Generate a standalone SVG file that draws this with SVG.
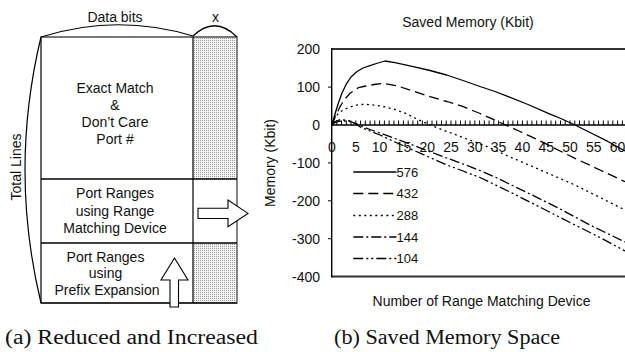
<svg xmlns="http://www.w3.org/2000/svg" width="625" height="352" viewBox="0 0 625 352">
<style>
text{font-family:"Liberation Sans",Arial,sans-serif;fill:#111}
.t14{font-size:14px}
.t13{font-size:13px}
.mid{text-anchor:middle}
.end{text-anchor:end}
.ln{fill:none;stroke:#000;stroke-width:1.2}
.cv{fill:none;stroke:#000;stroke-width:1.3;stroke-linejoin:round}
.s432{stroke-dasharray:10,5}
.s288{stroke-dasharray:2,3.5}
.s144{stroke-dasharray:10,3,2,3}
.s104{stroke-dasharray:10,3,2,3,2,3}
.arrow{fill:#fff;stroke:#000;stroke-width:1.1}
.cap{font-family:"Liberation Serif","Times New Roman",serif;font-size:20px}
</style>
<defs>
<pattern id="dots" width="2" height="2" patternUnits="userSpaceOnUse">
<rect width="2" height="2" fill="#f2f2f2"/>
<rect width="1" height="1" fill="#a0a0a0"/>
</pattern>
</defs>

<g id="table">
<rect x="193" y="37" width="44" height="142" fill="url(#dots)"/>
<rect x="193" y="243" width="44" height="60" fill="url(#dots)"/>
<rect x="41" y="37" width="196" height="266" fill="none" stroke="#000" stroke-width="1.2"/>
<line x1="41" y1="37" x2="237" y2="37" stroke="#777" stroke-width="2"/>
<line x1="237" y1="37" x2="237" y2="303" stroke="#888" stroke-width="1.8"/>
<line x1="193" y1="37" x2="193" y2="303" stroke="#000" stroke-width="1.2"/>
<line x1="41" y1="179" x2="237" y2="179" stroke="#000" stroke-width="1.3"/>
<line x1="41" y1="243" x2="237" y2="243" stroke="#000" stroke-width="1.3"/>
<line x1="41" y1="303" x2="237" y2="303" stroke="#000" stroke-width="1.2"/>
</g>

<g id="braces">
<path class="ln" d="M41,37 Q117,13 193,36"/>
<path class="ln" d="M193,36 Q215,15 237,37"/>
<path class="ln" d="M41,37 Q9,170 41,303"/>
<text class="t14 mid" x="115" y="21.5">Data bits</text>
<text class="t14 mid" x="215.5" y="21.5">x</text>
<text class="t14 mid" transform="translate(21,167) rotate(-90)">Total Lines</text>
</g>

<g id="exact-match">
<text class="t14 mid" x="115" y="92.5">Exact Match</text>
<text class="t14 mid" x="115" y="109.7">&amp;</text>
<text class="t14 mid" x="115" y="126.9">Don’t Care</text>
<text class="t14 mid" x="115" y="144.1">Port #</text>
</g>

<g id="range-device">
<text class="t14 mid" x="115" y="198.3">Port Ranges</text>
<text class="t14 mid" x="115" y="215.6">using Range</text>
<text class="t14 mid" x="115" y="232.8">Matching Device</text>
<polygon class="arrow" points="198,208.3 228,208.3 228,200 248,213.4 228,226.8 228,218.5 198,218.5"/>
</g>

<g id="prefix-expansion">
<text class="t14 mid" x="105.5" y="261.5">Port Ranges</text>
<text class="t14 mid" x="105.5" y="278">using</text>
<text class="t14 mid" x="107" y="295">Prefix Expansion</text>
<polygon class="arrow" points="174.5,258 188,280 178.5,280 178.5,307 170,307 170,280 161,280"/>
</g>

<g id="chart">
<text class="t14 mid" x="468" y="27">Saved Memory (Kbit)</text>
<line x1="331.7" y1="49" x2="625" y2="49" stroke="#333" stroke-width="1.8"/>
<line x1="331.7" y1="276.5" x2="625" y2="276.5" stroke="#333" stroke-width="1.8"/>
<line x1="331.7" y1="48" x2="331.7" y2="277.4" stroke="#000" stroke-width="1.4"/>
<path stroke="#000" stroke-width="1" d="M328,87.1h4M328,162.9h4M328,200.8h4M328,238.7h4"/>
<g class="t14 end">
<text x="320" y="54.2">200</text>
<text x="320" y="92.2">100</text>
<text x="320" y="130.1">0</text>
<text x="320" y="168">-100</text>
<text x="320" y="205.9">-200</text>
<text x="320" y="243.8">-300</text>
<text x="320" y="281.6">-400</text>
</g>
<text class="t14 mid" transform="translate(275,163) rotate(-90)">Memory (Kbit)</text>
<text class="t14 mid" x="481.5" y="306">Number of Range Matching Device</text>
<g class="t14 mid">
<text x="332" y="151.5">0</text>
<text x="355.8" y="151.5">5</text>
<text x="379.6" y="151.5">10</text>
<text x="403.4" y="151.5">15</text>
<text x="427.2" y="151.5">20</text>
<text x="451" y="151.5">25</text>
<text x="474.8" y="151.5">30</text>
<text x="498.6" y="151.5">35</text>
<text x="522.4" y="151.5">40</text>
<text x="546.2" y="151.5">45</text>
<text x="570" y="151.5">50</text>
<text x="593.8" y="151.5">55</text>
<text x="617.6" y="151.5">60</text>
</g>
</g>

<g id="connectors">
<line x1="331.7" y1="125" x2="625" y2="125" stroke="#000" stroke-width="1.4"/>
<path stroke="#000" stroke-width="1" d="M332,120.5v4.5M336.8,120.5v4.5M341.5,120.5v4.5M346.3,120.5v4.5M351,120.5v4.5M355.8,120.5v4.5M360.6,120.5v4.5M365.3,120.5v4.5M370.1,120.5v4.5M374.8,120.5v4.5M379.6,120.5v4.5M384.4,120.5v4.5M389.1,120.5v4.5M393.9,120.5v4.5M398.6,120.5v4.5M403.4,120.5v4.5M408.2,120.5v4.5M412.9,120.5v4.5M417.7,120.5v4.5M422.4,120.5v4.5M427.2,120.5v4.5M432,120.5v4.5M436.7,120.5v4.5M441.5,120.5v4.5M446.2,120.5v4.5M451,120.5v4.5M455.8,120.5v4.5M460.5,120.5v4.5M465.3,120.5v4.5M470,120.5v4.5M474.8,120.5v4.5M479.6,120.5v4.5M484.3,120.5v4.5M489.1,120.5v4.5M493.8,120.5v4.5M498.6,120.5v4.5M503.4,120.5v4.5M508.1,120.5v4.5M512.9,120.5v4.5M517.6,120.5v4.5M522.4,120.5v4.5M527.2,120.5v4.5M531.9,120.5v4.5M536.7,120.5v4.5M541.4,120.5v4.5M546.2,120.5v4.5M551,120.5v4.5M555.7,120.5v4.5M560.5,120.5v4.5M565.2,120.5v4.5M570,120.5v4.5M574.8,120.5v4.5M579.5,120.5v4.5M584.3,120.5v4.5M589,120.5v4.5M593.8,120.5v4.5M598.6,120.5v4.5M603.3,120.5v4.5M608.1,120.5v4.5M612.8,120.5v4.5M617.6,120.5v4.5M622.4,120.5v4.5"/>
<polyline class="cv" points="332,125 335,114 338.3,103.3 342,93 346.7,83.3 351,77 356.7,71.7 363,68 370,65.7 378,63 385,61 395,62.7 413.3,66.7 430,70.5 446.7,75 463,80.5 480,86.5 495,91.5 508.3,96.7 528,104.5 548.3,113.3 562,119 575,125 590,132.5 608.3,141.7 625,151"/>
<polyline class="cv s432" points="332,125 335,117 340,106.7 345,99 350,93.3 358.3,87.7 366,86 374,84.5 383.3,83.3 396.7,85.7 413,91 430,96.7 447,101.5 463.3,106.7 480,113.5 500,122.5 520,131.5 541.7,141.7 558,150 575,158.3 600,170 625,181.7"/>
<polyline class="cv s288" points="332,125 334,119.5 338.5,113 343.3,110 350,107 357,105 363.3,104.3 372,104.8 383.3,106.5 395,109.5 407,114 418,119.5 430,125 447,131.5 467,139 488,147 508,156 530,165.5 552,175 575,185 600,197.5 625,210"/>
<polyline class="cv s144" points="332,125 335,122.5 339,121.3 344,121 350,121.5 356,123.5 361,126 370,129.5 380,133 395,138.5 410,144 428,151 446.7,158 463,164 480,170.5 495,177 508.3,183.5 530,194 558.3,208 590,225 625,242"/>
<polyline class="cv s104" points="332,125 335,121.5 339,120 344,120 350,121 356,124 361,127.5 370,131 380,135 396,142.5 413,150 430,157.5 447,165 463,171 480,177.5 510,192 541.7,208 570,222.5 600,237.5 625,251"/>
</g>

<g id="legend">
<line class="cv" x1="353.3" y1="172" x2="396.5" y2="172"/>
<line class="cv s432" x1="353.3" y1="193.5" x2="396.5" y2="193.5"/>
<line class="cv s288" x1="353.3" y1="215.5" x2="396.5" y2="215.5"/>
<line class="cv s144" x1="353.3" y1="237" x2="396.5" y2="237"/>
<line class="cv s104" x1="353.3" y1="258.5" x2="396.5" y2="258.5"/>
<text class="t13" x="396.5" y="176.7">576</text>
<text class="t13" x="396.5" y="198.2">432</text>
<text class="t13" x="396.5" y="220.2">288</text>
<text class="t13" x="396.5" y="241.7">144</text>
<text class="t13" x="396.5" y="263.2">104</text>
</g>

<g id="captions">
<text class="cap" x="5" y="344" textLength="253" lengthAdjust="spacingAndGlyphs">(a) Reduced and Increased</text>
<text class="cap" x="334" y="344" textLength="226" lengthAdjust="spacingAndGlyphs">(b) Saved Memory Space</text>
</g>
</svg>
